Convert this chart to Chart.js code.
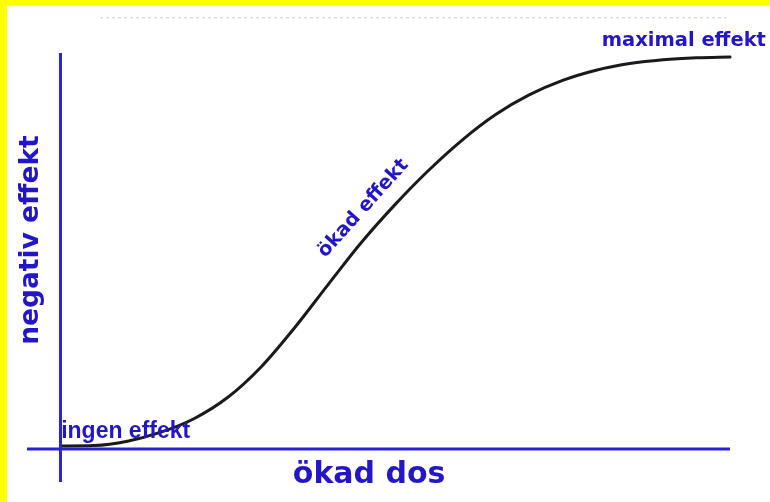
<!DOCTYPE html>
<html>
<head>
<meta charset="utf-8">
<script src="https://cdn.jsdelivr.net/npm/chart.js@4.4.1/dist/chart.umd.min.js"></script>
<style>
  html, body { margin: 0; padding: 0; }
  body { width: 770px; height: 502px; background: #ffff00; position: relative; overflow: hidden; }
  #wrap { position: absolute; left: 7px; top: 5px; width: 763px; height: 497px; background: #ffffff; }
  canvas { display: block; }
</style>
</head>
<body>
<div id="wrap"><canvas id="c" width="763" height="497"></canvas></div>
<script>
// Dose (x) and effect (y)
const doseValues   = [0, 0.5, 1, 1.5, 2, 2.5, 3, 3.5, 4, 4.5, 5, 5.5, 6, 6.5, 7, 7.5, 8, 8.5, 9, 9.5, 10];
const effectValues = [0.008, 0.009, 0.02, 0.043, 0.078, 0.132, 0.210, 0.310, 0.420, 0.528, 0.624, 0.711, 0.788, 0.853, 0.903, 0.940, 0.966, 0.983, 0.993, 0.998, 1.0];

// Axis extents
const xRange = [-0.5, 10];
const yRange = [-0.084, 1.01];

// Faint dotted guide at the top
const guideX = [0.59, 9.95];
const guideY = [1.1, 1.1];

// Text labels
const xTitle = 'ökad dos';
const yTitle = 'negativ effekt';
const labelNone = 'ingen effekt';
const labelRise = 'ökad effekt';
const labelMax = 'maximal effekt';

const curve = doseValues.map((d, i) => ({ x: d, y: effectValues[i] }));
const xAxisLine = [{ x: xRange[0], y: 0 }, { x: xRange[1], y: 0 }];
const yAxisLine = [{ x: 0, y: yRange[0] }, { x: 0, y: yRange[1] }];
const guide = guideX.map((g, i) => ({ x: g, y: guideY[i] }));

const TEXT_BLUE = '#2316c9';
const textItems = [
  { text: labelMax,  x: 9.31,  y: 1.028,  font: 'bold 19.5px "DejaVu Sans"', align: 'center', rot: 0 },
  { text: labelRise, x: 4.58,  y: 0.605,  font: 'bold 19.5px "DejaVu Sans"', align: 'center', rot: -48 },
  { text: labelNone, x: 0.01,  y: 0.028,  font: 'bold 23px "Liberation Sans"', align: 'left', rot: 0 },
  { text: xTitle,    x: 4.61,  y: -0.087, font: 'bold 30px "DejaVu Sans"', align: 'center', rot: 0 },
  { text: yTitle,    x: -0.33, y: 0.533,  font: 'bold 26.5px "DejaVu Sans"', align: 'center', rot: -90 }
];

const textPlugin = {
  id: 'textLabels',
  afterDatasetsDraw(chart) {
    const ctx = chart.ctx;
    const xs = chart.scales.x, ys = chart.scales.y;
    textItems.forEach(t => {
      ctx.save();
      ctx.fillStyle = TEXT_BLUE;
      ctx.font = t.font;
      ctx.textAlign = t.align;
      ctx.textBaseline = 'alphabetic';
      ctx.translate(xs.getPixelForValue(t.x), ys.getPixelForValue(t.y));
      ctx.rotate(t.rot * Math.PI / 180);
      ctx.fillText(t.text, 0, 0);
      ctx.restore();
    });
  }
};

new Chart(document.getElementById('c'), {
  type: 'scatter',
  data: {
    datasets: [
      { data: guide, showLine: true, borderColor: '#dcdcdc', borderWidth: 1.5, borderDash: [3, 3], pointRadius: 0, clip: false },
      { data: xAxisLine, showLine: true, borderColor: '#2b21d6', borderWidth: 3, borderCapStyle: 'butt', pointRadius: 0, clip: false },
      { data: yAxisLine, showLine: true, borderColor: '#2b21d6', borderWidth: 3, borderCapStyle: 'butt', pointRadius: 0, clip: false },
      { data: curve, showLine: true, borderColor: '#1a1a1a', borderWidth: 3, cubicInterpolationMode: 'monotone', pointRadius: 0, borderCapStyle: 'round', clip: false }
    ]
  },
  options: {
    responsive: false,
    devicePixelRatio: 1,
    animation: false,
    layout: { padding: { left: 20, right: 40, top: 48, bottom: 20 } },
    plugins: { legend: { display: false }, tooltip: { enabled: false } },
    scales: {
      x: { type: 'linear', min: xRange[0], max: xRange[1], display: false },
      y: { type: 'linear', min: yRange[0], max: yRange[1], display: false }
    }
  },
  plugins: [textPlugin]
});
</script>
</body>
</html>
